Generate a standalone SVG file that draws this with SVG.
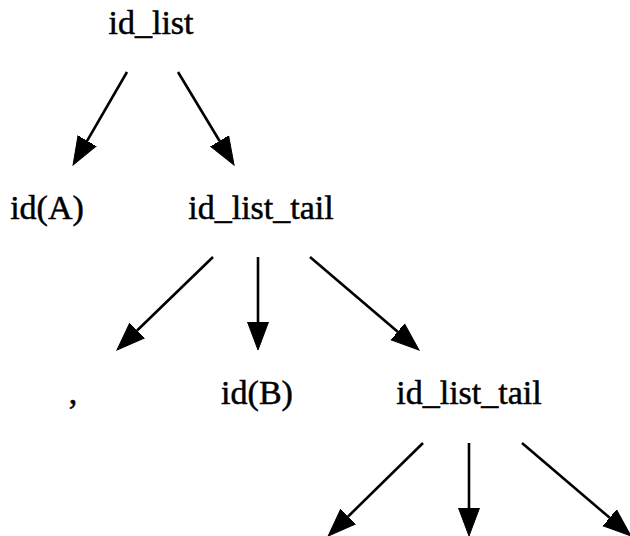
<svg xmlns="http://www.w3.org/2000/svg" width="630" height="536" viewBox="0 0 630 536">
  <style>
    .lbl { font-family: "Liberation Serif", "Times New Roman", serif; font-size: 34px; fill: #000; stroke: #000; stroke-width: 0.5; text-anchor: middle; }
    .edge { stroke: #000; stroke-width: 2.6; fill: none; marker-end: url(#arrow); }
  </style>
  <defs>
    <!-- filled triangular arrowhead; path ends at its base, tip lies 28px further on -->
    <marker id="arrow" markerUnits="userSpaceOnUse" markerWidth="30" markerHeight="24" viewBox="0 -12 30 24" refX="0" refY="0" orient="auto">
      <polygon points="0,-10.5 28,0 0,10.5" fill="#000" stroke="#000" stroke-width="1"/>
    </marker>
  </defs>
  <rect width="630" height="536" fill="#fff"/>

  <g id="edges">
    <path class="edge" d="M127,72 L87.1,140.8"/>
    <path class="edge" d="M178,72 L219.6,141"/>
    <path class="edge" d="M213,257 L137.1,330.5"/>
    <path class="edge" d="M258,257 L258,322"/>
    <path class="edge" d="M310,257 L397.7,331.8"/>
    <path class="edge" d="M423,443 L348.1,516.5"/>
    <path class="edge" d="M469,443 L469,508"/>
    <path class="edge" d="M522,443 L609.7,517.8"/>
  </g>

  <g id="n_id_list"><text class="lbl" x="151" y="34">id_list</text></g>
  <g id="n_idA"><text class="lbl" x="47" y="219">id(A)</text></g>
  <g id="n_tail1"><text class="lbl" x="261" y="219">id_list_tail</text></g>
  <g id="n_comma"><text class="lbl" x="73" y="404">,</text></g>
  <g id="n_idB"><text class="lbl" x="257" y="404">id(B)</text></g>
  <g id="n_tail2"><text class="lbl" x="469" y="404">id_list_tail</text></g>
</svg>
